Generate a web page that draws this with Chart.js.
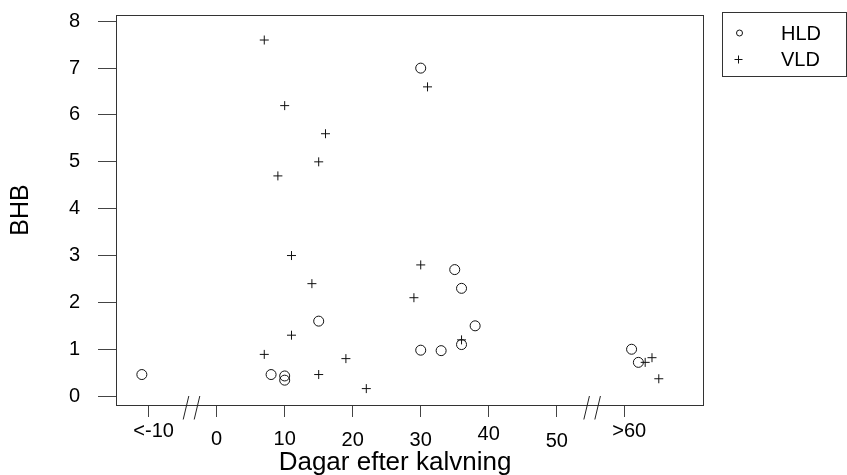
<html>
  <head>
    <style>
      body { margin: 0; background: #fff; }
    </style>
  </head>
  <body>
    <canvas id="myChart" width="847" height="475"></canvas>
    <script src="https://cdn.jsdelivr.net/npm/chart.js@4.4.0/dist/chart.umd.min.js"></script>
    <script>
      // dagar efter kalvning / BHB
      const hldX = [-11, 8, 10, 10, 15, 30, 35, 36, 38, 30, 33, 36, 61, 62];
      const hldY = [0.46, 0.46, 0.43, 0.34, 1.6, 7.0, 2.7, 2.3, 1.5, 0.98, 0.97, 1.1, 1.0, 0.72];
      const vldX = [7, 10, 16, 15, 9, 11, 14, 11, 7, 19, 15, 22, 31, 30, 29, 36, 63, 64, 65];
      const vldY = [7.6, 6.2, 5.6, 5.0, 4.7, 3.0, 2.4, 1.3, 0.89, 0.8, 0.46, 0.16, 6.6, 2.8, 2.1, 1.2, 0.72, 0.82, 0.37];

      const xTicks = [-10, 0, 10, 20, 30, 40, 50, 60];
      const xTickLabels = ["<-10", "0", "10", "20", "30", "40", "50", ">60"];
      const yTicks = [0, 1, 2, 3, 4, 5, 6, 7, 8];
      const xBreaks = [-3.7, 55.2];

      const FONT = "'Liberation Sans', Arial, sans-serif";

      function toPoints(xs, ys) {
        return xs.map((x, i) => ({ x: x, y: ys[i] }));
      }

      // box, break marks, x labels, x title, legend
      const extras = {
        id: "extras",
        afterDraw(chart) {
          const ctx = chart.ctx;
          const a = chart.chartArea;
          const xs = chart.scales.x;
          ctx.save();
          ctx.strokeStyle = "#333";
          ctx.lineWidth = 1;
          ctx.strokeRect(Math.round(a.left) + 0.5, Math.round(a.top) + 0.5,
            Math.round(a.right - a.left), Math.round(a.bottom - a.top));

          // axis break marks
          ctx.strokeStyle = "#222";
          xBreaks.forEach(b => {
            const cx = xs.getPixelForValue(b);
            [-5.5, 5.5].forEach(dx => {
              ctx.beginPath();
              ctx.moveTo(cx + dx + 2.8, a.bottom - 9);
              ctx.lineTo(cx + dx - 2.8, a.bottom + 14.5);
              ctx.stroke();
            });
          });

          // x tick labels, staggered like the original
          const base = [437, 445, 445, 446, 446, 440, 446.5, 437];
          const shift = [5, 0, 0, 0, 0, 0, 0, 4.5];
          ctx.fillStyle = "#000";
          ctx.font = "20px " + FONT;
          ctx.textAlign = "center";
          ctx.textBaseline = "alphabetic";
          xTicks.forEach((v, i) => {
            ctx.fillText(xTickLabels[i], xs.getPixelForValue(v) + shift[i], base[i]);
          });

          ctx.font = "26px " + FONT;
          ctx.fillText("Dagar efter kalvning", 395, 470);

          // legend
          ctx.strokeStyle = "#333";
          ctx.strokeRect(722.5, 12.5, 124, 64);
          ctx.strokeStyle = "#111";
          ctx.beginPath();
          ctx.arc(739.5, 33, 3, 0, Math.PI * 2);
          ctx.stroke();
          ctx.beginPath();
          ctx.moveTo(734.5, 59.5); ctx.lineTo(742.5, 59.5);
          ctx.moveTo(738.5, 55.5); ctx.lineTo(738.5, 63.5);
          ctx.stroke();
          ctx.font = "20px " + FONT;
          ctx.textAlign = "left";
          ctx.fillText(chart.data.datasets[0].label, 781, 39.5);
          ctx.fillText(chart.data.datasets[1].label, 781, 66);
          ctx.restore();
        }
      };

      const ctx = document.getElementById("myChart").getContext("2d");
      new Chart(ctx, {
        type: "scatter",
        data: {
          datasets: [{
            label: "HLD",
            data: toPoints(hldX, hldY),
            pointStyle: "circle",
            pointRadius: 5,
            borderColor: "#111",
            backgroundColor: "rgba(0,0,0,0)",
            borderWidth: 1
          }, {
            label: "VLD",
            data: toPoints(vldX, vldY),
            pointStyle: "cross",
            pointRadius: 4.5,
            borderColor: "#111",
            backgroundColor: "#111",
            borderWidth: 1
          }]
        },
        plugins: [extras],
        options: {
          responsive: false,
          animation: false,
          layout: { padding: { top: 15, right: 144, bottom: 0, left: 0 } },
          plugins: { legend: { display: false }, tooltip: { enabled: false } },
          scales: {
            x: {
              type: "linear",
              min: -14.8,
              max: 71.5,
              afterBuildTicks: s => { s.ticks = xTicks.map(v => ({ value: v })); },
              afterFit: s => { s.height = 70; s.paddingLeft = 0; s.paddingRight = 0; },
              ticks: { display: false },
              border: { display: false },
              grid: { drawOnChartArea: false, tickLength: 12, color: "#444" }
            },
            y: {
              min: -0.19,
              max: 8.134,
              afterBuildTicks: s => { s.ticks = yTicks.map(v => ({ value: v })); },
              afterFit: s => { s.width = 116; s.paddingTop = 0; s.paddingBottom = 0; },
              ticks: { color: "#000", padding: 18, font: { size: 20, family: FONT } },
              border: { display: false },
              grid: { drawOnChartArea: false, tickLength: 18, color: "#444" },
              title: {
                display: true,
                text: "BHB",
                color: "#000",
                font: { size: 25, family: FONT },
                padding: { top: 6, bottom: 0 }
              }
            }
          }
        }
      });
    </script>
  </body>
</html>
